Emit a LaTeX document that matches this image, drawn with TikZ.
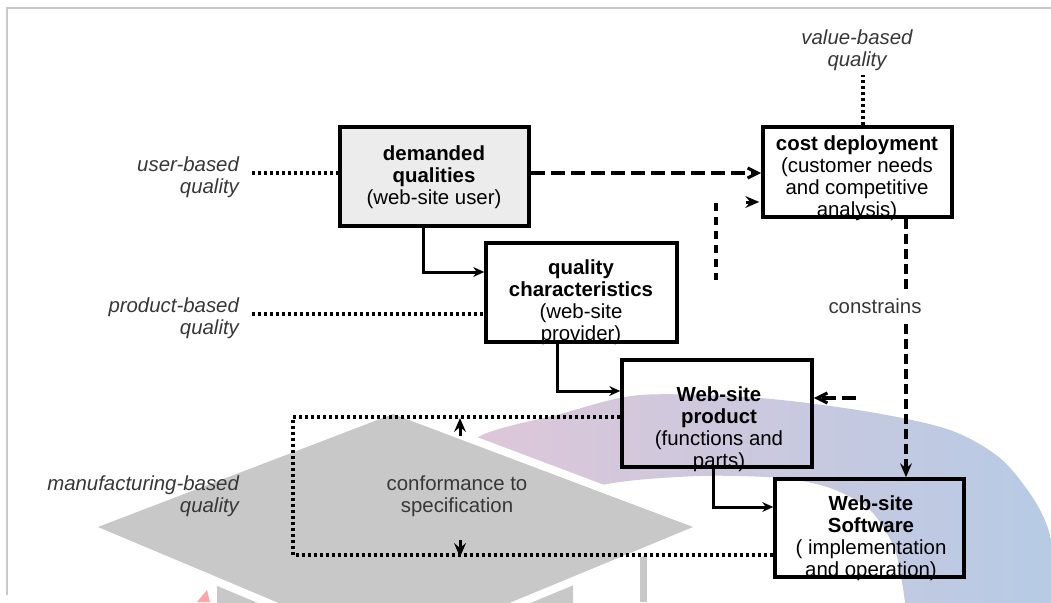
\documentclass[tikz,border=0pt]{standalone}
\usepackage{fontspec}
\setmainfont{Liberation Sans}
\usepackage{tikz}
\usetikzlibrary{arrows.meta}
\definecolor{cap-grey}{RGB}{200,200,200}
\definecolor{ring-pink}{RGB}{224,198,216}
\definecolor{ring-blue}{RGB}{182,203,229}
\definecolor{label-grey}{RGB}{55,55,55}

\begin{document}
\begin{tikzpicture}[x=0.5pt, y=-0.5pt,
  txt/.style={font=\fontsize{10.2}{11}\selectfont, align=center},
  lbl/.style={font=\fontsize{10.2}{11}\selectfont\itshape, text=label-grey, align=right},
  box/.style={draw, line width=1.8pt, inner sep=0pt},
  tip/.style={-{Stealth[length=5.5pt,width=5pt,line width=0pt]}},
  bigtip/.style={-{Stealth[length=7pt,width=6pt,inset=2.5pt,line width=0pt]}},
  dashln/.style={line width=1.6pt, dash pattern=on 7pt off 3pt},
  dotln/.style={line width=1.6pt, dash pattern=on 1.5pt off 1.5pt}]
  \useasboundingbox (0,0) rectangle (1051,602);

  % watermark in the background
  \begin{scope}
    \clip (0,0) rectangle (1051,602);
    \shade[left color=ring-pink, middle color=ring-blue!75!ring-pink, right color=ring-blue]
      plot[smooth] coordinates {(440,470) (482,435) (560,414) (640,395) (760,398)
        (870,412) (950,430) (1000,458) (1033,498) (1050,535) (1065,610)}
      -- (905,610)
      -- plot[smooth] coordinates {(905,602) (895,550) (870,510) (830,488) (780,478)
        (700,476) (607,484) (500,512)} -- cycle;
    \fill[red!35!white] (197,602) -- (207,590) -- (210,602) -- cycle;
    \fill[cap-grey] (217,640) -- (217,560) -- (393,640) -- (573,560) -- (573,640) -- cycle;
    \fill[cap-grey] (640,540) rectangle (647,602);
    \draw[white, line width=8pt, line join=miter]
      (98,527) -- (393,414) -- (693,527) -- (393,651) -- cycle;
    \fill[cap-grey] (98,527) -- (393,414) -- (693,527) -- (393,651) -- cycle;
  \end{scope}
  \draw[cap-grey, line width=0.8pt] (7,595) -- (7,8) -- (1051,8);

  % boxes
  \node[box, fill=gray!15, minimum width=94.5pt, minimum height=49.5pt] (dq) at (434.5,176.5) {};
  \node[box, minimum width=94.5pt, minimum height=45pt] (cd) at (857.5,172) {};
  \node[box, minimum width=95.5pt, minimum height=49.5pt] (qc) at (581.5,292.5) {};
  \node[box, minimum width=95pt, minimum height=53.5pt] (wp) at (717,413.5) {};
  \node[box, minimum width=94.5pt, minimum height=49pt] (ws) at (869.5,528) {};

  \node[txt] (dq-t) at (434,177) {\textbf{demanded}\\\textbf{qualities}\\(web-site user)};
  \node[txt] (cd-t) at (857,178) {\textbf{cost deployment}\\(customer needs\\and competitive\\analysis)};
  \node[txt] (qc-t) at (581,302) {\textbf{quality}\\\textbf{characteristics}\\(web-site\\provider)};
  \node[txt] (wp-t) at (719,429) {\textbf{Web-site}\\\textbf{product}\\(functions and\\parts)};
  \node[txt] (ws-t) at (871,538) {\textbf{Web-site}\\\textbf{Software}\\( implementation\\and operation)};

  % kinds of quality
  \node[lbl, anchor=east] (ub) at (246,177) {user-based\\quality};
  \node[lbl, anchor=east] (pb) at (246,318) {product-based\\quality};
  \node[lbl, anchor=east] (mb) at (246,496) {manufacturing-based\\quality};
  \node[lbl, align=center] (vb) at (857,50) {value-based\\quality};
  \node[txt, text=label-grey] (cs) at (457,496) {conformance to\\specification};

  \draw[dotln] ([xshift=3pt,yshift=2pt]ub.east) -- ([yshift=2pt]ub.east -| dq.west);
  \draw[dotln] ([xshift=3pt,yshift=2pt]pb.east) -- ([yshift=2pt]pb.east -| qc.west);
  \draw[dotln] (cd.north -| 863,0) -- (863,75);

  % conformance loop
  \coordinate (loop-t) at (293,417);
  \coordinate (loop-b) at (293,555);
  \draw[dotln] (wp.west |- loop-t) -- (loop-t) -- (loop-b) -- (ws.west |- loop-b);
  \draw[bigtip, line width=1.5pt] (460,436) -- (460,418);
  \draw[bigtip, line width=1.5pt] (460,540) -- (460,557);

  % main flow
  \draw[tip, line width=1.5pt] (dq.south -| 423,0) |- (qc.west |- 0,272);
  \draw[tip, line width=1.5pt] (qc.south -| 557,0) |- (wp.west |- 0,391);
  \draw[tip, line width=1.5pt] (wp.south -| 713,0) |- (ws.west |- 0,507);

  % dashed links
  \draw[dashln, -{Straight Barb[length=5pt,width=5pt]}] (dq.east |- 0,173) -- (cd.west |- 0,173);
  \draw[dashln, dash pattern=on 5pt off 2.5pt, bigtip]
    (cd.south -| 906,0) -- node[pos=0.34, txt, text=label-grey, fill=white, inner sep=4pt, xshift=-15.5pt] {constrains}
    (ws.north -| 906,0);
  \draw[dashln, -{Straight Barb[length=5pt,width=5pt]}] (856,398) -- (wp.east |- 0,398);
  \draw[dashln, dash pattern=on 4pt off 3pt] (716,203) -- (716,280);
  \draw[bigtip, line width=1.5pt] (746,202) -- ([xshift=-1pt]cd.west |- 0,202);
\end{tikzpicture}
\end{document}
